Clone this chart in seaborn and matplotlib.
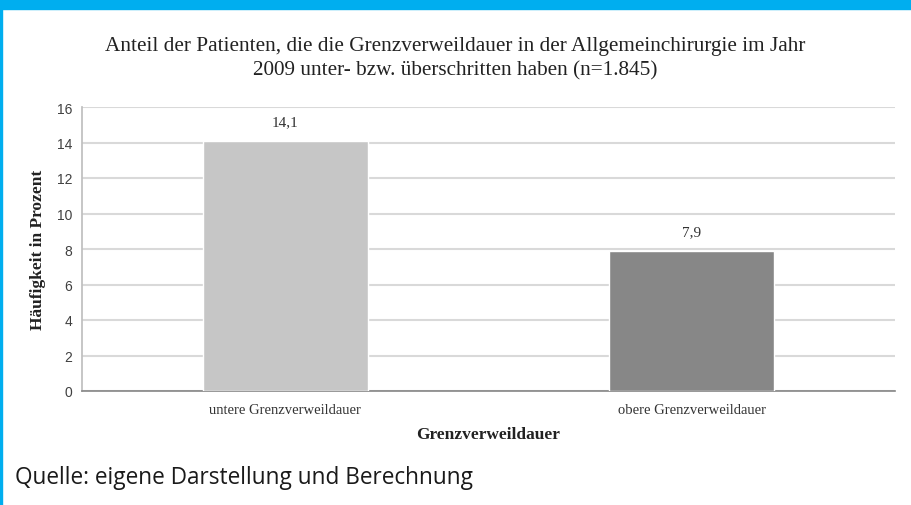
import numpy as np
import pandas as pd
import matplotlib
matplotlib.use("Agg")
import matplotlib.pyplot as plt
from matplotlib.patches import Rectangle
import seaborn as sns

# Daten
kategorien = ["untere Grenzverweildauer", "obere Grenzverweildauer"]
anteile = [14.1, 7.9]
wert_labels = ["14,1", "7,9"]
farben = ["#c6c6c6", "#878787"]
y_ticks = [0, 2, 4, 6, 8, 10, 12, 14, 16]

titel = ("Anteil der Patienten, die die Grenzverweildauer in der Allgemeinchirurgie im Jahr\n"
         "2009 unter- bzw. überschritten haben (n=1.845)")
quelle = "Quelle: eigene Darstellung und Berechnung"

df = pd.DataFrame({"Kategorie": kategorien, "Anteil": anteile})

sns.set_theme(style="white")
serif = ["Liberation Serif", "DejaVu Serif"]

fig = plt.figure(figsize=(9.11, 5.06), dpi=100)
fig.patch.set_facecolor("white")

# blauer Rahmen oben und links
fig.patches.append(Rectangle((0, 1 - 10 / 506), 1, 10 / 506, transform=fig.transFigure,
                             color="#00aeef", zorder=0))
fig.patches.append(Rectangle((0, 0), 2 / 911, 1, transform=fig.transFigure,
                             color="#00aeef", zorder=0))

ax = fig.add_axes([82 / 911, (506 - 392) / 506, (895 - 82) / 911, (392 - 108) / 506])

sns.barplot(data=df, x="Kategorie", y="Anteil", hue="Kategorie", palette=farben,
            width=0.405, legend=False, ax=ax, zorder=3, saturation=1)

ax.set_xlim(-0.5, 1.5)
ax.set_ylim(0, 16)
ax.set_yticks(y_ticks)
ax.set_yticklabels([str(t) for t in y_ticks], fontsize=10, color="#404040",
                   family="Liberation Sans")
ax.yaxis.grid(True, color="#d9d9d9", linewidth=1.5, zorder=0)
ax.set_axisbelow(True)

ax.set_xticks([0, 1])
ax.set_xticklabels(kategorien, fontsize=10.5, color="#333333", family=serif)
ax.set_xticks([-0.5, 0.5, 1.5], minor=True)
ax.tick_params(axis="x", which="major", length=0, pad=9)
ax.tick_params(axis="x", which="minor", length=6, direction="inout", color="#868686")
ax.tick_params(axis="y", length=4, color="#bfbfbf", pad=3)

for s in ["top", "right"]:
    ax.spines[s].set_visible(False)
ax.spines["left"].set_color("#bfbfbf")
ax.spines["bottom"].set_color("#868686")
ax.spines["bottom"].set_linewidth(1.2)

for i, (v, t) in enumerate(zip(anteile, wert_labels)):
    ax.text(i, v + 0.7, t, ha="center", va="bottom", fontsize=11,
            color="#333333", family=serif)

ax.set_xlabel("Grenzverweildauer", fontsize=12.5, fontweight="bold", family=serif,
              color="#222222", labelpad=7)
ax.set_ylabel("Häufigkeit in Prozent", fontsize=12.5, fontweight="bold", family=serif,
              color="#222222", labelpad=8)

fig.text(0.5, 1 - 59 / 506, titel, ha="center", va="center", fontsize=15.3,
         family=serif, color="#222222", linespacing=1.38)

fig.text(15 / 911, 1 - 478 / 506, quelle, ha="left", va="center", fontsize=16.3,
         family=["Open Sans", "DejaVu Sans"], color="#1a1a1a")

fig.savefig("out.png", dpi=100)
